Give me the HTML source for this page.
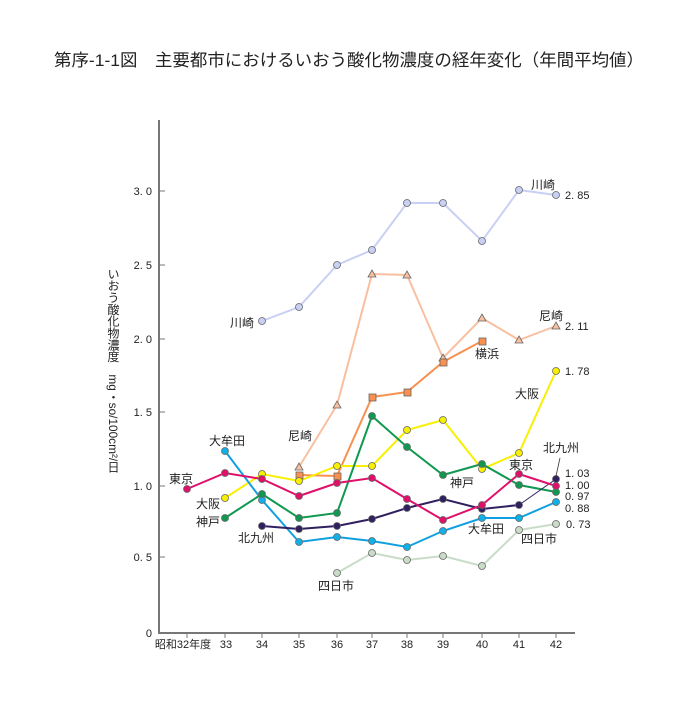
<!DOCTYPE html>
<html><head><meta charset="utf-8"><style>
html,body{margin:0;padding:0;background:#fff;}
svg{display:block;font-family:"Liberation Sans","Noto Sans CJK JP",sans-serif;}
</style></head><body>
<svg width="697" height="704" viewBox="0 0 697 704">
<text x="54" y="66" font-size="17" fill="#222" textLength="590" lengthAdjust="spacingAndGlyphs">第序-1-1図　主要都市におけるいおう酸化物濃度の経年変化（年間平均値）</text>
<!-- axes -->
<line x1="159" y1="120" x2="159" y2="634" stroke="#777" stroke-width="2"/>
<line x1="158" y1="633" x2="575" y2="633" stroke="#777" stroke-width="2"/>
<g stroke="#777" stroke-width="1">
<line x1="159" y1="191" x2="165" y2="191"/><line x1="159" y1="265" x2="165" y2="265"/><line x1="159" y1="339" x2="165" y2="339"/><line x1="159" y1="412" x2="165" y2="412"/><line x1="159" y1="486" x2="165" y2="486"/><line x1="159" y1="557" x2="165" y2="557"/>
<line x1="187" y1="633" x2="187" y2="638"/><line x1="225" y1="633" x2="225" y2="638"/><line x1="262" y1="633" x2="262" y2="638"/><line x1="299" y1="633" x2="299" y2="638"/><line x1="337" y1="633" x2="337" y2="638"/><line x1="372" y1="633" x2="372" y2="638"/><line x1="407" y1="633" x2="407" y2="638"/><line x1="443" y1="633" x2="443" y2="638"/><line x1="482" y1="633" x2="482" y2="638"/><line x1="519" y1="633" x2="519" y2="638"/><line x1="556" y1="633" x2="556" y2="638"/>
</g>
<g font-size="11" fill="#222" text-anchor="end">
<text x="152" y="195">3. 0</text><text x="152" y="269">2. 5</text><text x="152" y="343">2. 0</text><text x="152" y="416">1. 5</text><text x="152" y="490">1. 0</text><text x="152" y="561">0. 5</text><text x="152" y="637">0</text>
</g>
<g font-size="11" fill="#222" text-anchor="middle">
<text x="183" y="648">昭和32年度</text><text x="226" y="648">33</text><text x="262" y="648">34</text><text x="299" y="648">35</text><text x="337" y="648">36</text><text x="372" y="648">37</text><text x="407" y="648">38</text><text x="443" y="648">39</text><text x="482" y="648">40</text><text x="519" y="648">41</text><text x="556" y="648">42</text>
</g>
<text x="113" y="268" font-size="12" fill="#222" style="writing-mode:vertical-rl" textLength="205" lengthAdjust="spacingAndGlyphs">いおう酸化物濃度　mg・so/100cm²/日</text>
<!-- series -->
<g fill="none" stroke-width="2">
<polyline stroke="#c8d0f4" points="262,321 299,307 337,265 372,250 407,203 443,203 482,241 519,190 556,195"/>
<polyline stroke="#f8c0a0" points="299,467 337,405 372,274 407,275 443,358 482,318 519,340 556,326"/>
<polyline stroke="#f89050" points="299,475 337,476 372,397 407,392 443,362 482,341"/>
<polyline stroke="#f8f000" points="225,498 262,474 299,481 337,466 372,466 407,430 443,420 482,469 519,453 556,371"/>
<polyline stroke="#c8dcc8" points="337,573 372,553 407,560 443,556 482,566 519,530 556,524"/>
<polyline stroke="#10a0e0" points="225,451 262,500 299,542 337,537 372,541 407,547 443,531 482,518 519,518 556,502"/>
<polyline stroke="#109850" points="225,518 262,494 299,518 337,513 372,416 407,447 443,475 482,464 519,485 556,492"/>
<polyline stroke="#302060" points="262,526 299,529 337,526 372,519 407,508 443,499 482,509 519,505"/>
<polyline stroke="#302060" stroke-width="1" points="519,505 556,479"/>
<polyline stroke="#e0106a" points="187,489 225,473 262,479 299,496 337,483 372,478 407,499 443,520 482,505 519,474 556,486"/>
</g>
<g stroke="#666" stroke-width="0.8">
<g fill="#c8d0f4"><circle cx="262" cy="321" r="3.5"/><circle cx="299" cy="307" r="3.5"/><circle cx="337" cy="265" r="3.5"/><circle cx="372" cy="250" r="3.5"/><circle cx="407" cy="203" r="3.5"/><circle cx="443" cy="203" r="3.5"/><circle cx="482" cy="241" r="3.5"/><circle cx="519" cy="190" r="3.5"/><circle cx="556" cy="195" r="3.5"/></g>
<g fill="#f8c0a0"><polygon points="299,463 303,470 295,470"/><polygon points="337,401 341,408 333,408"/><polygon points="372,270 376,277 368,277"/><polygon points="407,271 411,278 403,278"/><polygon points="443,354 447,361 439,361"/><polygon points="482,314 486,321 478,321"/><polygon points="519,336 523,343 515,343"/><polygon points="556,322 560,329 552,329"/></g>
<g fill="#f89050"><rect x="296" y="472" width="7" height="7"/><rect x="334" y="473" width="7" height="7"/><rect x="369" y="394" width="7" height="7"/><rect x="404" y="389" width="7" height="7"/><rect x="440" y="359" width="7" height="7"/><rect x="479" y="338" width="7" height="7"/></g>
<g fill="#f8f000"><circle cx="225" cy="498" r="3.5"/><circle cx="262" cy="474" r="3.5"/><circle cx="299" cy="481" r="3.5"/><circle cx="337" cy="466" r="3.5"/><circle cx="372" cy="466" r="3.5"/><circle cx="407" cy="430" r="3.5"/><circle cx="443" cy="420" r="3.5"/><circle cx="482" cy="469" r="3.5"/><circle cx="519" cy="453" r="3.5"/><circle cx="556" cy="371" r="3.5"/></g>
<g fill="#c8dcc8"><circle cx="337" cy="573" r="3.5"/><circle cx="372" cy="553" r="3.5"/><circle cx="407" cy="560" r="3.5"/><circle cx="443" cy="556" r="3.5"/><circle cx="482" cy="566" r="3.5"/><circle cx="519" cy="530" r="3.5"/><circle cx="556" cy="524" r="3.5"/></g>
<g fill="#10b0e8"><circle cx="225" cy="451" r="3.5"/><circle cx="262" cy="500" r="3.5"/><circle cx="299" cy="542" r="3.5"/><circle cx="337" cy="537" r="3.5"/><circle cx="372" cy="541" r="3.5"/><circle cx="407" cy="547" r="3.5"/><circle cx="443" cy="531" r="3.5"/><circle cx="482" cy="518" r="3.5"/><circle cx="519" cy="518" r="3.5"/><circle cx="556" cy="502" r="3.5"/></g>
<g fill="#109850"><circle cx="225" cy="518" r="3.5"/><circle cx="262" cy="494" r="3.5"/><circle cx="299" cy="518" r="3.5"/><circle cx="337" cy="513" r="3.5"/><circle cx="372" cy="416" r="3.5"/><circle cx="407" cy="447" r="3.5"/><circle cx="443" cy="475" r="3.5"/><circle cx="482" cy="464" r="3.5"/><circle cx="519" cy="485" r="3.5"/><circle cx="556" cy="492" r="3.5"/></g>
<g fill="#302060"><circle cx="262" cy="526" r="3.5"/><circle cx="299" cy="529" r="3.5"/><circle cx="337" cy="526" r="3.5"/><circle cx="372" cy="519" r="3.5"/><circle cx="407" cy="508" r="3.5"/><circle cx="443" cy="499" r="3.5"/><circle cx="482" cy="509" r="3.5"/><circle cx="519" cy="505" r="3.5"/><circle cx="556" cy="479" r="3.5"/></g>
<g fill="#e0106a"><circle cx="187" cy="489" r="3.5"/><circle cx="225" cy="473" r="3.5"/><circle cx="262" cy="479" r="3.5"/><circle cx="299" cy="496" r="3.5"/><circle cx="337" cy="483" r="3.5"/><circle cx="372" cy="478" r="3.5"/><circle cx="407" cy="499" r="3.5"/><circle cx="443" cy="520" r="3.5"/><circle cx="482" cy="505" r="3.5"/><circle cx="519" cy="474" r="3.5"/><circle cx="556" cy="486" r="3.5"/></g>
</g>
<line x1="556" y1="476" x2="560" y2="458" stroke="#333" stroke-width="0.8"/>
<!-- labels -->
<g font-size="12" fill="#222">
<text x="531" y="189">川崎</text><text x="230" y="327">川崎</text>
<text x="539" y="320">尼崎</text><text x="288" y="440">尼崎</text>
<text x="475" y="358">横浜</text>
<text x="515" y="398">大阪</text><text x="196" y="508">大阪</text>
<text x="543" y="452">北九州</text><text x="238" y="542">北九州</text>
<text x="509" y="469">東京</text><text x="169" y="483">東京</text>
<text x="450" y="487">神戸</text><text x="196" y="526">神戸</text>
<text x="468" y="533">大牟田</text><text x="209" y="445">大牟田</text>
<text x="521" y="543">四日市</text><text x="318" y="590">四日市</text>
</g>
<g font-size="11" fill="#222">
<text x="565" y="199">2. 85</text><text x="565" y="330">2. 11</text><text x="565" y="375">1. 78</text>
<text x="565" y="477">1. 03</text><text x="565" y="489">1. 00</text><text x="565" y="500">0. 97</text><text x="565" y="512">0. 88</text><text x="566" y="528">0. 73</text>
</g>
</svg>
</body></html>
